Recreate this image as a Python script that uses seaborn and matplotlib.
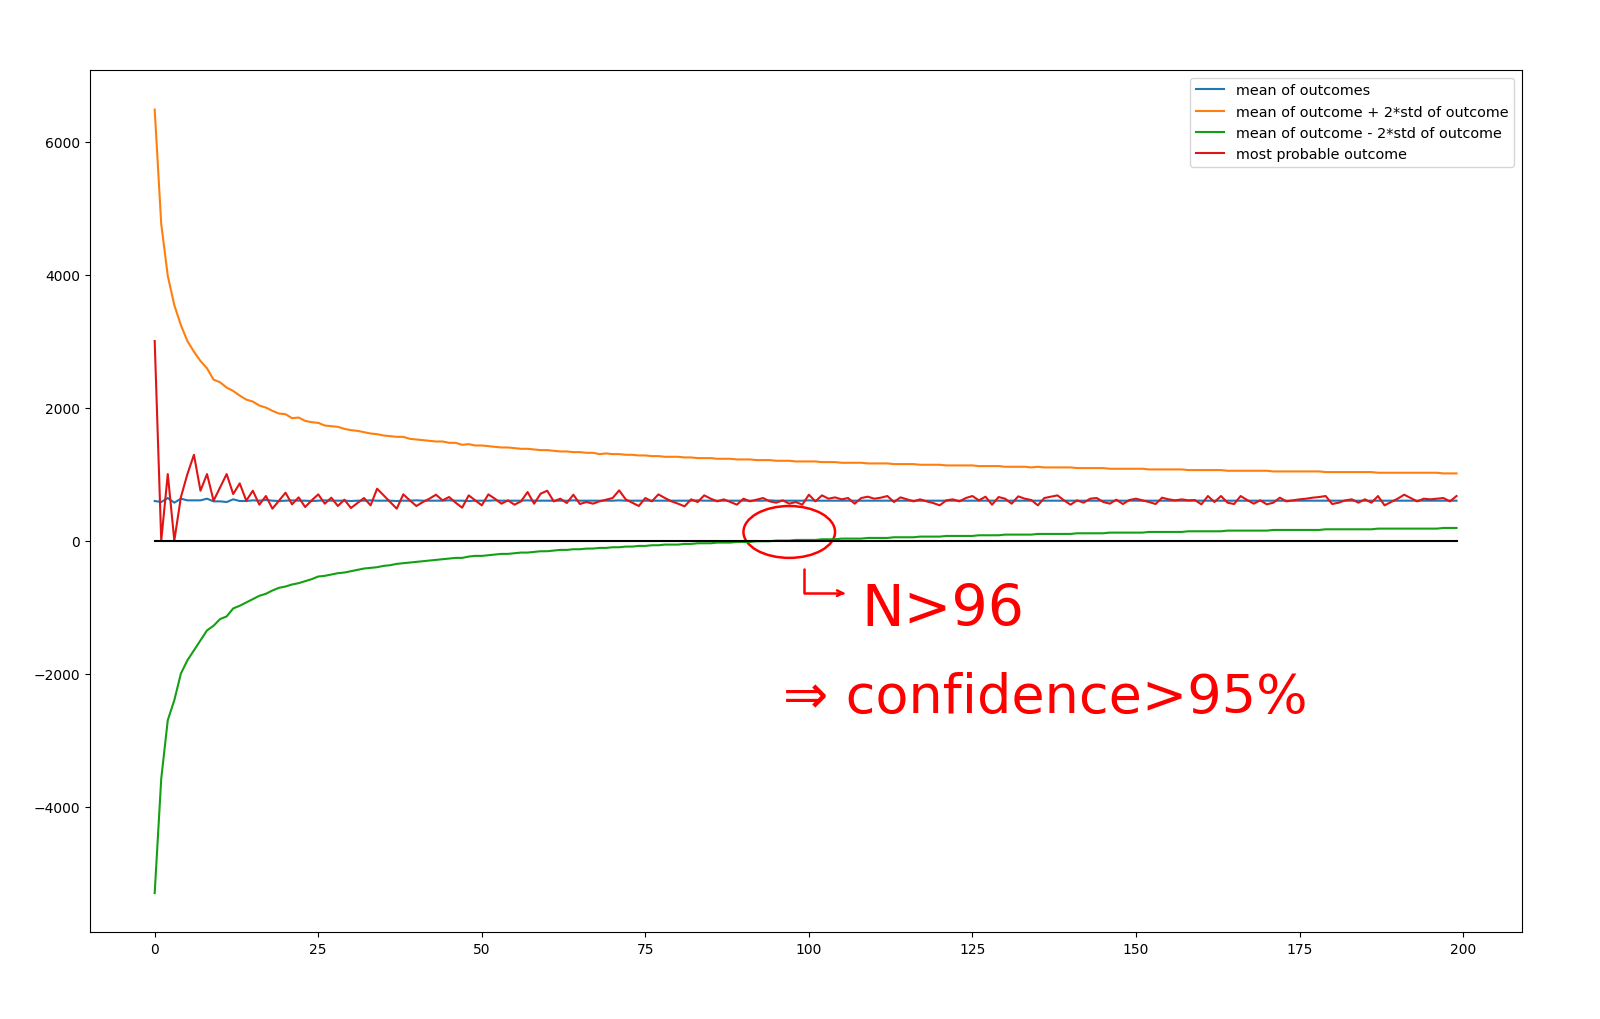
import numpy as np
import pandas as pd
import seaborn as sns
import matplotlib.pyplot as plt
from matplotlib.patches import Ellipse

# values, one per trial count n = 0..199
mean_of_outcomes = [
    595, 580, 640, 570, 630, 605, 605, 605, 630, 590,
    590, 580, 620, 595, 595, 605, 600, 610, 600, 595,
    600, 605, 600, 600, 595, 600, 605, 600, 600, 600,
    595, 600, 600, 605, 600, 600, 600, 595, 600, 600,
    605, 600, 600, 600, 600, 605, 600, 600, 595, 600,
    600, 600, 605, 600, 600, 600, 600, 605, 600, 600,
    600, 600, 600, 600, 605, 600, 600, 600, 600, 600,
    600, 605, 600, 600, 600, 600, 600, 600, 600, 600,
    600, 600, 600, 605, 600, 600, 600, 600, 600, 600,
    600, 600, 600, 600, 605, 600, 600, 600, 600, 600,
    605, 600, 600, 600, 600, 600, 600, 600, 600, 600,
    600, 600, 600, 600, 600, 600, 600, 600, 600, 600,
    600, 600, 600, 600, 600, 600, 600, 600, 600, 600,
    600, 600, 600, 600, 600, 600, 600, 600, 600, 600,
    600, 600, 600, 600, 600, 600, 600, 600, 600, 600,
    600, 600, 600, 600, 600, 600, 600, 600, 600, 600,
    600, 600, 600, 600, 600, 600, 600, 600, 600, 600,
    600, 600, 600, 600, 600, 600, 600, 600, 600, 600,
    600, 600, 600, 600, 600, 600, 600, 600, 600, 600,
    600, 600, 600, 600, 600, 600, 600, 600, 600, 600,
]

upper = [
    6480, 4760, 3980, 3540, 3240, 3000, 2840, 2700, 2590, 2420,
    2380, 2300, 2250, 2180, 2120, 2090, 2030, 2000, 1950, 1910,
    1900, 1840, 1850, 1800, 1780, 1770, 1730, 1720, 1710, 1680,
    1660, 1650, 1630, 1610, 1600, 1580, 1570, 1560, 1560, 1530,
    1520, 1510, 1500, 1490, 1490, 1470, 1470, 1440, 1450, 1430,
    1430, 1420, 1410, 1400, 1400, 1390, 1380, 1380, 1370, 1360,
    1360, 1350, 1340, 1340, 1330, 1330, 1320, 1320, 1300, 1310,
    1300, 1300, 1290, 1290, 1280, 1280, 1270, 1270, 1260, 1260,
    1260, 1250, 1250, 1240, 1240, 1240, 1230, 1230, 1230, 1220,
    1220, 1220, 1210, 1210, 1210, 1200, 1200, 1200, 1190, 1190,
    1190, 1190, 1180, 1180, 1180, 1170, 1170, 1170, 1170, 1160,
    1160, 1160, 1160, 1150, 1150, 1150, 1150, 1140, 1140, 1140,
    1140, 1130, 1130, 1130, 1130, 1130, 1120, 1120, 1120, 1120,
    1110, 1110, 1110, 1110, 1100, 1110, 1100, 1100, 1100, 1100,
    1100, 1090, 1090, 1090, 1090, 1090, 1080, 1080, 1080, 1080,
    1080, 1080, 1070, 1070, 1070, 1070, 1070, 1070, 1060, 1060,
    1060, 1060, 1060, 1060, 1050, 1050, 1050, 1050, 1050, 1050,
    1050, 1040, 1040, 1040, 1040, 1040, 1040, 1040, 1040, 1030,
    1030, 1030, 1030, 1030, 1030, 1030, 1030, 1020, 1020, 1020,
    1020, 1020, 1020, 1020, 1020, 1020, 1020, 1010, 1010, 1010,
]

lower = [
    -5300, -3580, -2700, -2400, -2000, -1800, -1650, -1500, -1350, -1280,
    -1180, -1140, -1020, -980, -930, -880, -830, -800, -750, -710,
    -690, -660, -640, -610, -580, -540, -530, -510, -490, -480,
    -460, -440, -420, -410, -400, -380, -370, -350, -340, -330,
    -320, -310, -300, -290, -280, -270, -260, -260, -240, -230,
    -230, -220, -210, -200, -200, -190, -180, -180, -170, -160,
    -160, -150, -140, -140, -130, -130, -120, -120, -110, -110,
    -100, -100, -90, -90, -80, -80, -70, -70, -60, -60,
    -60, -50, -50, -40, -40, -40, -30, -30, -30, -20,
    -20, -20, -10, -10, -10, 0, 0, 0, 10, 10,
    10, 10, 20, 20, 20, 30, 30, 30, 30, 40,
    40, 40, 40, 50, 50, 50, 50, 60, 60, 60,
    60, 70, 70, 70, 70, 70, 80, 80, 80, 80,
    90, 90, 90, 90, 90, 100, 100, 100, 100, 100,
    100, 110, 110, 110, 110, 110, 120, 120, 120, 120,
    120, 120, 130, 130, 130, 130, 130, 130, 140, 140,
    140, 140, 140, 140, 150, 150, 150, 150, 150, 150,
    150, 160, 160, 160, 160, 160, 160, 160, 160, 170,
    170, 170, 170, 170, 170, 170, 170, 180, 180, 180,
    180, 180, 180, 180, 180, 180, 180, 190, 190, 190,
]

most_probable = [
    3000, 0, 1000, 0, 650, 1000, 1290, 750, 1000, 600,
    800, 1000, 700, 860, 600, 750, 540, 670, 480, 600,
    720, 545, 650, 505, 605, 695, 555, 645, 520, 615,
    490, 565, 640, 530, 780, 680, 580, 480, 695, 605,
    520, 580, 630, 690, 605, 655, 570, 495, 680, 605,
    530, 695, 630, 555, 605, 540, 590, 730, 555, 705,
    750, 590, 630, 565, 690, 550, 580, 555, 590, 615,
    640, 755, 620, 570, 520, 640, 590, 695, 640, 590,
    555, 515, 620, 580, 680, 630, 590, 620, 580, 540,
    630, 590, 615, 640, 590, 570, 605, 555, 580, 540,
    690, 590, 680, 630, 650, 620, 640, 555, 640, 660,
    630, 645, 670, 580, 650, 620, 590, 620, 590, 565,
    530, 605, 620, 590, 640, 670, 605, 660, 540, 655,
    630, 555, 665, 630, 610, 530, 640, 660, 680, 605,
    540, 605, 570, 630, 640, 580, 555, 615, 550, 610,
    630, 605, 580, 550, 645, 620, 605, 620, 605, 610,
    545, 670, 580, 670, 570, 550, 670, 610, 555, 605,
    545, 570, 645, 590, 605, 620, 630, 645, 655, 670,
    550, 570, 605, 620, 570, 620, 570, 670, 530, 580,
    630, 690, 640, 590, 630, 620, 630, 640, 590, 670,
]

n = np.arange(len(mean_of_outcomes))
df = pd.DataFrame({
    "n": n,
    "mean": mean_of_outcomes,
    "upper": upper,
    "lower": lower,
    "mode": most_probable,
    "zero": np.zeros(len(n)),
})

fig, ax = plt.subplots(figsize=(16, 10.2), dpi=100)
plt.subplots_adjust(left=0.056, right=0.951, top=0.930, bottom=0.085)

sns.lineplot(data=df, x="n", y="mean", ax=ax, color="#1f77b4", label="mean of outcomes")
sns.lineplot(data=df, x="n", y="upper", ax=ax, color="#ff7f0e",
             label="mean of outcome + 2*std of outcome")
sns.lineplot(data=df, x="n", y="lower", ax=ax, color="#14a014",
             label="mean of outcome - 2*std of outcome")
sns.lineplot(data=df, x="n", y="mode", ax=ax, color="#e01414", label="most probable outcome")
sns.lineplot(data=df, x="n", y="zero", ax=ax, color="black", legend=False)

ax.set_xlabel("")
ax.set_ylabel("")
ax.set_xticks([0, 25, 50, 75, 100, 125, 150, 175, 200])
ax.set_yticks([-4000, -2000, 0, 2000, 4000, 6000])
ax.legend(loc="upper right", fontsize=10.4)

# handwritten-style notes in red
ax.add_patch(Ellipse((97, 130), 14, 780, angle=0, fill=False, edgecolor="red", lw=1.8))
ax.annotate("", xy=(106, -790), xytext=(99.3, -380),
            arrowprops=dict(arrowstyle="->", color="red", lw=1.8,
                            connectionstyle="angle,angleA=90,angleB=0,rad=0"))
ax.text(108, -1030, "N>96", color="red", fontsize=41, va="center", ha="left")
ax.text(96, -2350, "\u21d2 confidence>95%", color="red", fontsize=39, va="center", ha="left")

plt.savefig("out.png")
